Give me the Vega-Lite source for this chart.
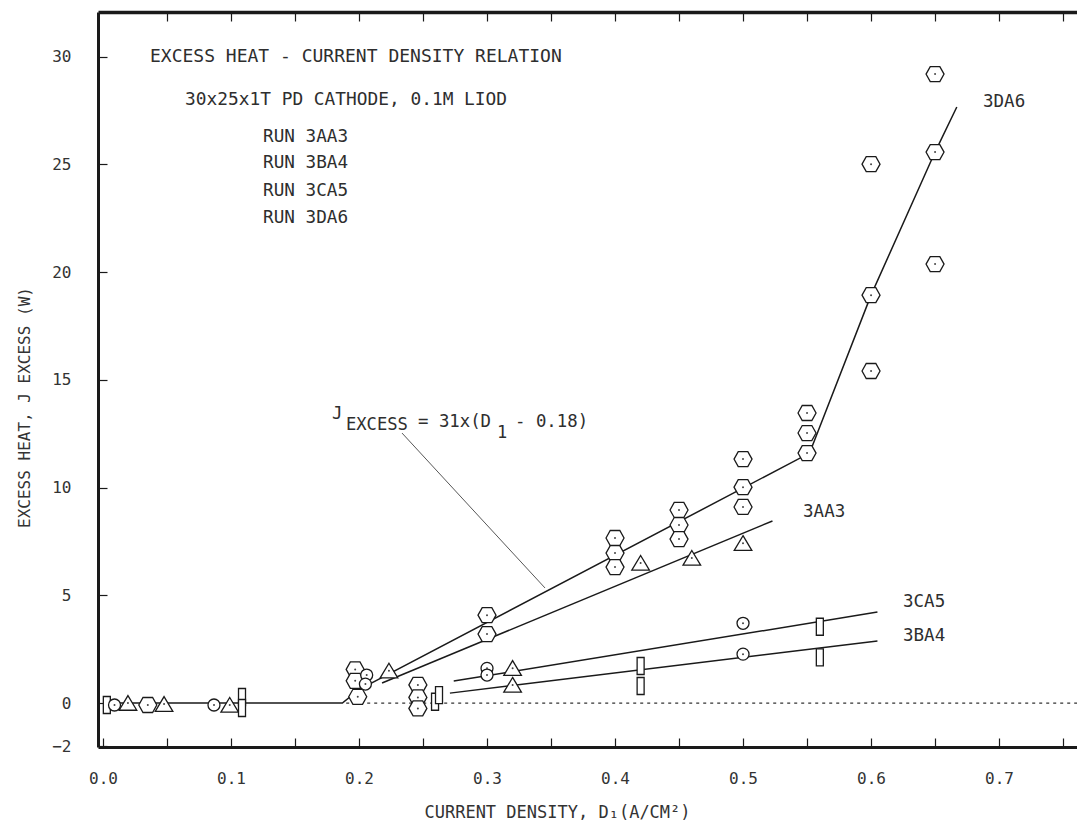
{
"$schema":"https://vega.github.io/schema/vega-lite/v6.json",
"width":979,"height":735,
"autosize":{"type":"none"},
"padding":{"left":98,"top":12,"right":0,"bottom":85},
"background":"white",
"config":{"view":{"stroke":null},"font":"DejaVu Sans Mono",
 "axis":{"grid":false,"domainColor":"#1a1a1a","domainWidth":3,"tickColor":"#1a1a1a","tickWidth":1.2,"tickSize":-9,"labelFont":"DejaVu Sans Mono","labelFontSize":16,"labelColor":"#333333","titleFont":"DejaVu Sans Mono","titleFontWeight":"normal","titleColor":"#333333","labelOverlap":false,"labelFlush":false},
 "text":{"font":"DejaVu Sans Mono"}},
"datasets":{
 "lines":[
  {"series":"3DA6","ord":1,"x":0,"y":0},
  {"series":"3DA6","ord":2,"x":0.187,"y":0},
  {"series":"3DA6","ord":3,"x":0.2,"y":0.62},
  {"series":"3DA6","ord":4,"x":0.552,"y":11.6},
  {"series":"3DA6","ord":5,"x":0.6,"y":18.93},
  {"series":"3DA6","ord":6,"x":0.65,"y":25.57},
  {"series":"3DA6","ord":7,"x":0.667,"y":27.66},
  {"series":"3AA3","ord":1,"x":0.218,"y":0.93},
  {"series":"3AA3","ord":2,"x":0.523,"y":8.45},
  {"series":"3CA5","ord":1,"x":0.274,"y":1.02},
  {"series":"3CA5","ord":2,"x":0.605,"y":4.22},
  {"series":"3BA4","ord":1,"x":0.271,"y":0.46},
  {"series":"3BA4","ord":2,"x":0.605,"y":2.88},
  {"series":"leader","ord":1,"x":0.2336,"y":12.53},
  {"series":"leader","ord":2,"x":0.3453,"y":5.34}
 ],
 "dotted":[{"x":0.19,"y":0},{"x":0.761,"y":0}],
 "points":[
  {"symbol":"rect","x":0.003,"y":-0.09},
  {"symbol":"circle","x":0.009,"y":-0.09},
  {"symbol":"triangle","x":0.0195,"y":0.0},
  {"symbol":"hexagon","x":0.035,"y":-0.09},
  {"symbol":"triangle","x":0.0477,"y":-0.05},
  {"symbol":"circle","x":0.0867,"y":-0.09},
  {"symbol":"triangle","x":0.099,"y":-0.09},
  {"symbol":"rect","x":0.1086,"y":0.28},
  {"symbol":"rect","x":0.1086,"y":-0.23},
  {"symbol":"hexagon","x":0.197,"y":1.56},
  {"symbol":"hexagon","x":0.197,"y":1.03},
  {"symbol":"hexagon","x":0.199,"y":0.29},
  {"symbol":"circle","x":0.206,"y":1.3},
  {"symbol":"circle","x":0.205,"y":0.88},
  {"symbol":"triangle","x":0.2234,"y":1.5},
  {"symbol":"hexagon","x":0.246,"y":0.84},
  {"symbol":"hexagon","x":0.246,"y":0.26},
  {"symbol":"hexagon","x":0.246,"y":-0.25},
  {"symbol":"rect","x":0.2594,"y":0.06},
  {"symbol":"rect","x":0.2625,"y":0.37},
  {"symbol":"hexagon","x":0.3,"y":4.08},
  {"symbol":"hexagon","x":0.3,"y":3.2},
  {"symbol":"circle","x":0.3,"y":1.61},
  {"symbol":"circle","x":0.3,"y":1.3},
  {"symbol":"triangle","x":0.32,"y":1.62},
  {"symbol":"triangle","x":0.32,"y":0.84},
  {"symbol":"hexagon","x":0.4,"y":7.66},
  {"symbol":"hexagon","x":0.4,"y":6.96},
  {"symbol":"hexagon","x":0.4,"y":6.31},
  {"symbol":"rect","x":0.42,"y":1.72},
  {"symbol":"rect","x":0.42,"y":0.79},
  {"symbol":"triangle","x":0.42,"y":6.5},
  {"symbol":"hexagon","x":0.45,"y":8.96},
  {"symbol":"hexagon","x":0.45,"y":8.26},
  {"symbol":"hexagon","x":0.45,"y":7.61},
  {"symbol":"triangle","x":0.46,"y":6.73},
  {"symbol":"hexagon","x":0.5,"y":11.32},
  {"symbol":"hexagon","x":0.5,"y":10.02},
  {"symbol":"hexagon","x":0.5,"y":9.1},
  {"symbol":"triangle","x":0.5,"y":7.42},
  {"symbol":"circle","x":0.5,"y":3.7},
  {"symbol":"circle","x":0.5,"y":2.27},
  {"symbol":"hexagon","x":0.55,"y":13.46},
  {"symbol":"hexagon","x":0.55,"y":12.53},
  {"symbol":"hexagon","x":0.55,"y":11.6},
  {"symbol":"rect","x":0.56,"y":3.54},
  {"symbol":"rect","x":0.56,"y":2.12},
  {"symbol":"hexagon","x":0.6,"y":25.01},
  {"symbol":"hexagon","x":0.6,"y":18.93},
  {"symbol":"hexagon","x":0.6,"y":15.41},
  {"symbol":"hexagon","x":0.65,"y":29.19},
  {"symbol":"hexagon","x":0.65,"y":25.57},
  {"symbol":"hexagon","x":0.65,"y":20.37}
 ],
 "texts":[
  {"label":"EXCESS HEAT - CURRENT DENSITY RELATION","role":"title","x":0.0367,"y":29.98},
  {"label":"30x25x1T PD CATHODE, 0.1M LIOD","role":"sub","x":0.0641,"y":27.98},
  {"label":"RUN 3AA3","role":"run","x":0.125,"y":26.26},
  {"label":"RUN 3BA4","role":"run","x":0.125,"y":25.06},
  {"label":"RUN 3CA5","role":"run","x":0.125,"y":23.76},
  {"label":"RUN 3DA6","role":"run","x":0.125,"y":22.51},
  {"label":"3DA6","role":"lab","x":0.6875,"y":27.89},
  {"label":"3AA3","role":"lab","x":0.5469,"y":8.86},
  {"label":"3CA5","role":"lab","x":0.625,"y":4.69},
  {"label":"3BA4","role":"lab","x":0.625,"y":3.11},
  {"label":"J","role":"eq","x":0.1789,"y":13.4},
  {"label":"EXCESS","role":"eqsub","x":0.1898,"y":12.9},
  {"label":"= 31x(D","role":"eq","x":0.2461,"y":13.04},
  {"label":"1","role":"idx","x":0.3078,"y":12.55},
  {"label":"- 0.18)","role":"eq","x":0.3219,"y":13.04}
 ]
},
"resolve":{"axis":{"x":"independent","y":"independent"}},
"layer":[
 {"data":{"name":"lines"},"transform":[{"filter":"datum.series !== 'leader'"}],
  "mark":{"type":"line","color":"#1a1a1a","strokeWidth":1.5},
  "encoding":{
   "x":{"field":"x","type":"quantitative","scale":{"domain":[-0.0039,0.7609],"nice":false,"zero":false},
    "axis":{"orient":"bottom","values":[0,0.05,0.1,0.15,0.2,0.25,0.3,0.35,0.4,0.45,0.5,0.55,0.6,0.65,0.7,0.75],
     "labelExpr":"round(datum.value*20) % 2 == 0 ? format(datum.value, '.1f') : ''",
     "labelPadding":32,"title":"CURRENT DENSITY, D₁(A/CM²)","titleFontSize":17,"titleX":459,"titleY":65,"titleBaseline":"middle"}},
   "y":{"field":"y","type":"quantitative","scale":{"domain":[-2.04,32.07],"nice":false,"zero":false},
    "axis":{"orient":"left","values":[-2,0,5,10,15,20,25,30],"labelPadding":36,
     "title":"EXCESS HEAT, J EXCESS (W)","titleFontSize":16,"titleX":-74,"titleY":395,"titleBaseline":"middle","titleAngle":-90}},
   "detail":{"field":"series"},
   "order":{"field":"ord"}}},
 {"data":{"name":"lines"},"transform":[{"filter":"datum.series === 'leader'"}],
  "mark":{"type":"line","color":"#444444","strokeWidth":0.9},
  "encoding":{
   "x":{"field":"x","type":"quantitative","scale":{"domain":[-0.0039,0.7609],"nice":false,"zero":false},"axis":null},
   "y":{"field":"y","type":"quantitative","scale":{"domain":[-2.04,32.07],"nice":false,"zero":false},"axis":null},
   "order":{"field":"ord"}}},
 {"data":{"name":"dotted"},
  "mark":{"type":"line","color":"#333333","strokeWidth":1.3,"strokeDash":[3,4]},
  "encoding":{
   "x":{"field":"x","type":"quantitative","scale":{"domain":[-0.0039,0.7609],"nice":false,"zero":false},
    "axis":{"orient":"top","labels":false,"title":null,"domainWidth":3.5,"values":[0.05,0.1,0.15,0.2,0.25,0.3,0.35,0.4,0.45,0.5,0.55,0.6,0.65,0.7,0.75]}},
   "y":{"field":"y","type":"quantitative","scale":{"domain":[-2.04,32.07],"nice":false,"zero":false},"axis":null}}},
 {"data":{"name":"points"},
  "mark":{"type":"point","filled":true,"fill":"white","stroke":"#1a1a1a","strokeWidth":1.3,"size":400,"opacity":1},
  "encoding":{
   "x":{"field":"x","type":"quantitative","scale":{"domain":[-0.0039,0.7609],"nice":false,"zero":false},"axis":null},
   "y":{"field":"y","type":"quantitative","scale":{"domain":[-2.04,32.07],"nice":false,"zero":false},"axis":null},
   "shape":{"field":"symbol","type":"nominal","legend":null,
    "scale":{"domain":["hexagon","triangle","circle","rect"],
     "range":["M-0.9,0L-0.48,-0.75L0.48,-0.75L0.9,0L0.48,0.75L-0.48,0.75Z",
              "M0,-0.75L0.88,0.72L-0.88,0.72Z",
              "M-0.6,0A0.6,0.6 0 1,0 0.6,0A0.6,0.6 0 1,0 -0.6,0Z",
              "M-0.35,-0.85L0.35,-0.85L0.35,0.85L-0.35,0.85Z"]}}}},
 {"data":{"name":"points"},"transform":[{"filter":"datum.symbol !== 'rect'"}],
  "mark":{"type":"circle","size":4,"color":"#444444","opacity":1},
  "encoding":{
   "x":{"field":"x","type":"quantitative","scale":{"domain":[-0.0039,0.7609],"nice":false,"zero":false},"axis":null},
   "y":{"field":"y","type":"quantitative","scale":{"domain":[-2.04,32.07],"nice":false,"zero":false},"axis":null}}},
 {"data":{"name":"texts"},
  "mark":{"type":"text","align":"left","baseline":"middle","color":"#2e2e2e","font":"DejaVu Sans Mono"},
  "encoding":{
   "x":{"field":"x","type":"quantitative","scale":{"domain":[-0.0039,0.7609],"nice":false,"zero":false},"axis":null},
   "y":{"field":"y","type":"quantitative","scale":{"domain":[-2.04,32.07],"nice":false,"zero":false},"axis":null},
   "text":{"field":"label"},
   "size":{"field":"role","type":"nominal","legend":null,
    "scale":{"domain":["title","sub","run","lab","eq","eqsub","idx"],"range":[18,17,17,18,18,14,12]}}}}
]
}
